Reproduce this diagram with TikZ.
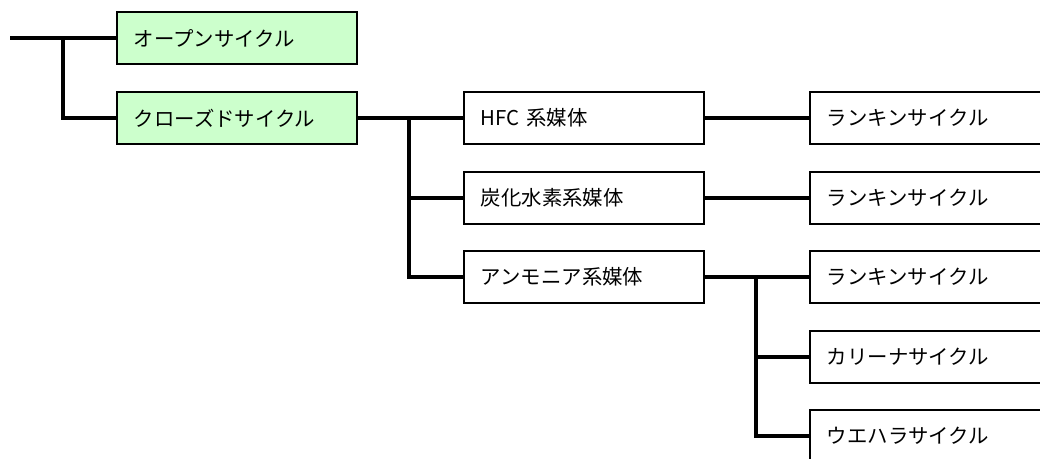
\documentclass[tikz,border=0pt]{standalone}
\usepackage{fontspec}
\setmainfont{Noto Sans CJK JP}
\definecolor{boxgreen}{HTML}{CCFFCC}

\begin{document}
\begin{tikzpicture}[x=0.025cm,y=-0.025cm,
    box/.style={draw, line width=1.3pt, minimum height=1.3cm, text width=5.15cm,
        inner xsep=0.425cm, align=left, anchor=west, font=\fontsize{14.5}{17}\selectfont},
    greenbox/.style={box, fill=boxgreen},
    widebox/.style={box, text width=6cm},
    link/.style={line width=2.2pt}]
    \useasboundingbox (0,0) rectangle (1040,459);
    \clip (0,0) rectangle (1040,459);
    \node[greenbox] (open) at (116,38) {オープンサイクル};
    \node[greenbox] (closed) at (116,118) {クローズドサイクル};
    \node[box] (hfc) at (463,118) {HFC 系媒体};
    \node[box] (hc) at (463,198) {炭化水素系媒体};
    \node[box] (nh3) at (463,277) {アンモニア系媒体};
    \node[widebox] (rk1) at (809,118) {ランキンサイクル};
    \node[widebox] (rk2) at (809,198) {ランキンサイクル};
    \node[widebox] (rk3) at (809,277) {ランキンサイクル};
    \node[widebox] (kal) at (809,357) {カリーナサイクル};
    \node[widebox] (ueh) at (809,436) {ウエハラサイクル};
    \coordinate (in) at (10,38);
    \coordinate (j1) at (63,38);
    \coordinate (j2) at (409,118);
    \coordinate (j3) at (756,277);
    \draw[link] (in) -- (open.west);
    \draw[link] (j1) |- (closed.west);
    \draw[link] (closed.east) -- (hfc.west);
    \draw[link] (j2) |- (hc.west);
    \draw[link] (j2) |- (nh3.west);
    \draw[link] (hfc.east) -- (rk1.west);
    \draw[link] (hc.east) -- (rk2.west);
    \draw[link] (nh3.east) -- (rk3.west);
    \draw[link] (j3) |- (kal.west);
    \draw[link] (j3) |- (ueh.west);
\end{tikzpicture}
\end{document}
